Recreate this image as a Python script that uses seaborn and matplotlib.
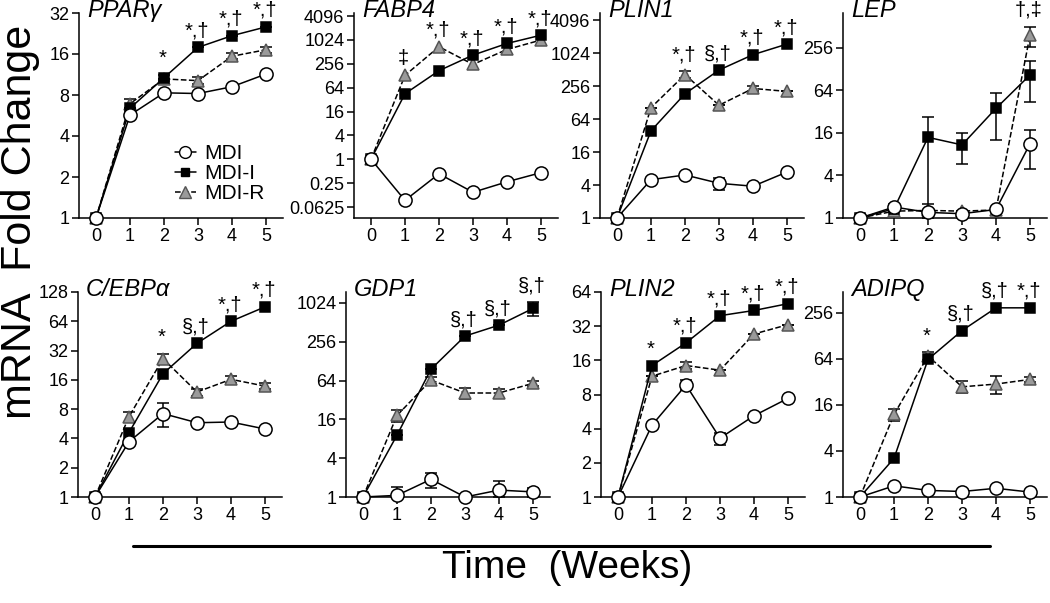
import numpy as np
import pandas as pd
import matplotlib
matplotlib.use("Agg")
import matplotlib.pyplot as plt
import matplotlib.ticker as mticker
from matplotlib.lines import Line2D
import seaborn as sns

# semanas del experimento
weeks = [0, 1, 2, 3, 4, 5]
groups = ["MDI", "MDI-I", "MDI-R"]

# valores (fold change)
pparg_mdi = [1, 5.7, 8.3, 8.2, 9.2, 11.4]
pparg_mdii = [1, 6.4, 10.7, 17.9, 21.8, 25.3]
pparg_mdir = [1, 6.9, 10.5, 10.2, 15.4, 17.2]

fabp4_mdi = [1, 0.092, 0.43, 0.147, 0.27, 0.46]
fabp4_mdii = [1, 45, 172, 425, 835, 1350]
fabp4_mdir = [1, 131, 690, 247, 590, 1020]

plin1_mdi = [1, 5.0, 6.1, 4.3, 3.8, 6.9]
plin1_mdii = [1, 39, 185, 500, 955, 1490]
plin1_mdir = [1, 103, 414, 114, 231, 204]

lep_mdi = [1, 1.43, 1.2, 1.15, 1.32, 11.2]
lep_mdii = [1, 1.35, 13.8, 10.8, 35.5, 105]
lep_mdir = [1, 1.25, 1.28, 1.25, 1.3, 383]

cebpa_mdi = [1, 3.7, 7.2, 5.8, 5.9, 5.0]
cebpa_mdii = [1, 4.6, 18.5, 38, 64, 90]
cebpa_mdir = [1, 6.7, 26.4, 12, 16.2, 13.8]

gdp1_mdi = [1, 1.06, 1.88, 1.0, 1.28, 1.2]
gdp1_mdii = [1, 9.1, 96, 313, 462, 840]
gdp1_mdir = [1, 18.4, 65, 41, 41, 58]

plin2_mdi = [1, 4.3, 9.7, 3.3, 5.2, 7.4]
plin2_mdii = [1, 14.4, 22.8, 39.6, 44, 50.5]
plin2_mdir = [1, 11.6, 14.4, 13.1, 27.3, 33]

adipq_mdi = [1, 1.4, 1.22, 1.18, 1.3, 1.16]
adipq_mdii = [1, 3.2, 63, 150, 298, 298]
adipq_mdir = [1, 12, 70, 27.6, 30, 34.5]

# errores (SEM) visibles en la figura
zero = [0, 0, 0, 0, 0, 0]
pparg_err = [zero, [0, 0, 0.6, 0, 0, 0], [0, 0.6, 0, 0.6, 0.8, 0.8]]
fabp4_err = [zero, zero, zero]
plin1_err = [[0, 0, 0, 1.1, 0, 0], zero, [0, 0, 60, 0, 25, 0]]
lep_err = [[0, 0, 0, 0, 0, 6.2], [0, 0, 12.6, 5, 23, 62], [0, 0, 0.3, 0, 0, 120]]
cebpa_err = [[0, 0, 2.0, 0, 0, 0], zero, [0, 0.8, 3, 1, 1.5, 1]]
gdp1_err = [[0, 0.35, 0.5, 0, 0.5, 0.2], [0, 0, 0, 0, 0, 200], [0, 4, 8, 8, 7, 6]]
plin2_err = [[0, 0, 1.0, 0.4, 0, 0], zero, [0, 0, 1, 0, 0, 0]]
adipq_err = [zero, zero, [0, 2, 8, 5, 8, 3]]

# simbolos de significancia por semana
pparg_sig = ["", "", "*", "*,†", "*,†", "*,†"]
fabp4_sig = ["", "‡", "*,†", "*,†", "*,†", "*,†"]
plin1_sig = ["", "", "*,†", "§,†", "*,†", "*,†"]
lep_sig = ["", "", "", "", "", "†,‡"]
cebpa_sig = ["", "", "*", "§,†", "*,†", "*,†"]
gdp1_sig = ["", "", "", "§,†", "§,†", "§,†"]
plin2_sig = ["", "*", "*,†", "*,†", "*,†", "*,†"]
adipq_sig = ["", "", "*", "§,†", "§,†", "*,†"]

titles = ["PPARγ", "FABP4", "PLIN1", "LEP", "C/EBPα", "GDP1", "PLIN2", "ADIPQ"]
y_ticks = [
    [1, 2, 4, 8, 16, 32],
    [0.0625, 0.25, 1, 4, 16, 64, 256, 1024, 4096],
    [1, 4, 16, 64, 256, 1024, 4096],
    [1, 4, 16, 64, 256],
    [1, 2, 4, 8, 16, 32, 64, 128],
    [1, 4, 16, 64, 256, 1024],
    [1, 2, 4, 8, 16, 32, 64],
    [1, 4, 16, 64, 256],
]
y_tick_labels = [[("%g" % t) for t in tk] for tk in y_ticks]
y_limits = [(1, 32), (0.033, 4900), (1, 5500), (1, 790),
            (1, 128), (1, 1510), (1, 64), (1, 480)]

panels = [
    (pparg_mdi, pparg_mdii, pparg_mdir, pparg_err, pparg_sig),
    (fabp4_mdi, fabp4_mdii, fabp4_mdir, fabp4_err, fabp4_sig),
    (plin1_mdi, plin1_mdii, plin1_mdir, plin1_err, plin1_sig),
    (lep_mdi, lep_mdii, lep_mdir, lep_err, lep_sig),
    (cebpa_mdi, cebpa_mdii, cebpa_mdir, cebpa_err, cebpa_sig),
    (gdp1_mdi, gdp1_mdii, gdp1_mdir, gdp1_err, gdp1_sig),
    (plin2_mdi, plin2_mdii, plin2_mdir, plin2_err, plin2_sig),
    (adipq_mdi, adipq_mdii, adipq_mdir, adipq_err, adipq_sig),
]

sns.set_style("ticks")
plt.rcParams["font.family"] = ["Liberation Sans", "DejaVu Sans"]
plt.rcParams["axes.linewidth"] = 1.1
plt.rcParams["axes.edgecolor"] = "black"
plt.rcParams["text.color"] = "black"
plt.rcParams["xtick.color"] = "black"
plt.rcParams["ytick.color"] = "black"

# estilo de cada grupo
styles = {
    "MDI": dict(marker="o", markersize=9.5, markerfacecolor="white",
                markeredgecolor="black", linestyle="-", zorder=5),
    "MDI-I": dict(marker="s", markersize=7, markerfacecolor="black",
                  markeredgecolor="black", linestyle="-", zorder=4),
    "MDI-R": dict(marker="^", markersize=9, markerfacecolor="#9a9a9a",
                  markeredgecolor="#555555", linestyle="--", zorder=3),
}

fig = plt.figure(figsize=(10.5, 6.03), dpi=100)
W, H = 1050, 603
lefts = [79, 354, 600, 843, 78, 346, 601, 843]
tops = [13, 13, 13, 13, 292, 292, 292, 292]
bottoms = [218, 218, 218, 218, 497, 497, 497, 497]

for i, (mdi, mdii, mdir, errs, sig) in enumerate(panels):
    ax = fig.add_axes([lefts[i] / W, 1 - bottoms[i] / H, 204 / W,
                       (bottoms[i] - tops[i]) / H])
    series = {"MDI": mdi, "MDI-I": mdii, "MDI-R": mdir}
    err_map = {"MDI": errs[0], "MDI-I": errs[1], "MDI-R": errs[2]}
    ymin = y_limits[i][0]
    for g in ["MDI-R", "MDI-I", "MDI"]:
        df = pd.DataFrame({"week": weeks, "fold": series[g]})
        st = styles[g]
        sns.lineplot(data=df, x="week", y="fold", ax=ax, color="black",
                     linewidth=1.1, marker=st["marker"], markersize=st["markersize"],
                     markerfacecolor=st["markerfacecolor"],
                     markeredgecolor=st["markeredgecolor"], markeredgewidth=1.1,
                     linestyle=st["linestyle"], zorder=st["zorder"], clip_on=False,
                     errorbar=None)
        e = np.array(err_map[g], dtype=float)
        v = np.array(series[g], dtype=float)
        if e.any():
            lower = np.clip(np.minimum(e, v - ymin), 0, None)
            ax.errorbar(weeks, v, yerr=[lower, e], fmt="none", ecolor="black",
                        elinewidth=1.1, capsize=4, capthick=1.1,
                        zorder=st["zorder"] - 0.5, clip_on=False)

    ax.set_yscale("log", base=2)
    ax.set_ylim(*y_limits[i])
    ax.set_xlim(-0.5, 5.5)
    ax.yaxis.set_major_locator(mticker.FixedLocator(y_ticks[i]))
    ax.yaxis.set_minor_locator(mticker.NullLocator())
    ax.set_yticklabels(y_tick_labels[i])
    ax.set_xticks(weeks)
    ax.set_xticklabels([str(w) for w in weeks])
    ax.tick_params(axis="both", labelsize=13, length=5, width=1.1,
                   direction="out", pad=2, colors="black")
    ax.set_xlabel("")
    ax.set_ylabel("")
    sns.despine(ax=ax)

    # titulo del gen en cursiva
    ax.text(0.04, 1.012, titles[i], transform=ax.transAxes, fontsize=17,
            fontstyle="italic", ha="left", va="center")

    # simbolos de significancia
    for w, s in zip(weeks, sig):
        if s:
            top = max(series[g][w] + err_map[g][w] for g in groups)
            ax.annotate(s, (w, top), xytext=(-1, 5), textcoords="offset points",
                        ha="center", va="bottom", fontsize=14.5,
                        annotation_clip=False)

    if i == 0:
        handles = [Line2D([], [], color="black", lw=1.1, linestyle=styles[g]["linestyle"],
                          marker=styles[g]["marker"], markersize=styles[g]["markersize"] - 1,
                          markerfacecolor=styles[g]["markerfacecolor"],
                          markeredgecolor=styles[g]["markeredgecolor"])
                   for g in groups]
        ax.legend(handles, groups, loc="upper left", bbox_to_anchor=(0.43, 0.4),
                  frameon=False, fontsize=15, handlelength=1.0, handletextpad=0.4,
                  labelspacing=0.05, borderaxespad=0)

# linea horizontal bajo los paneles y etiquetas generales
fig.add_artist(Line2D([133 / W, 990 / W], [1 - 546 / H, 1 - 546 / H],
                      color="black", lw=2.2))
fig.text(567 / W, 1 - 568 / H, "Time  (Weeks)", ha="center", va="center",
         fontsize=28)
fig.text(20 / W, 1 - 222 / H, "mRNA  Fold Change", ha="center", va="center",
         rotation=90, fontsize=31)

fig.savefig("out.png", dpi=100)
